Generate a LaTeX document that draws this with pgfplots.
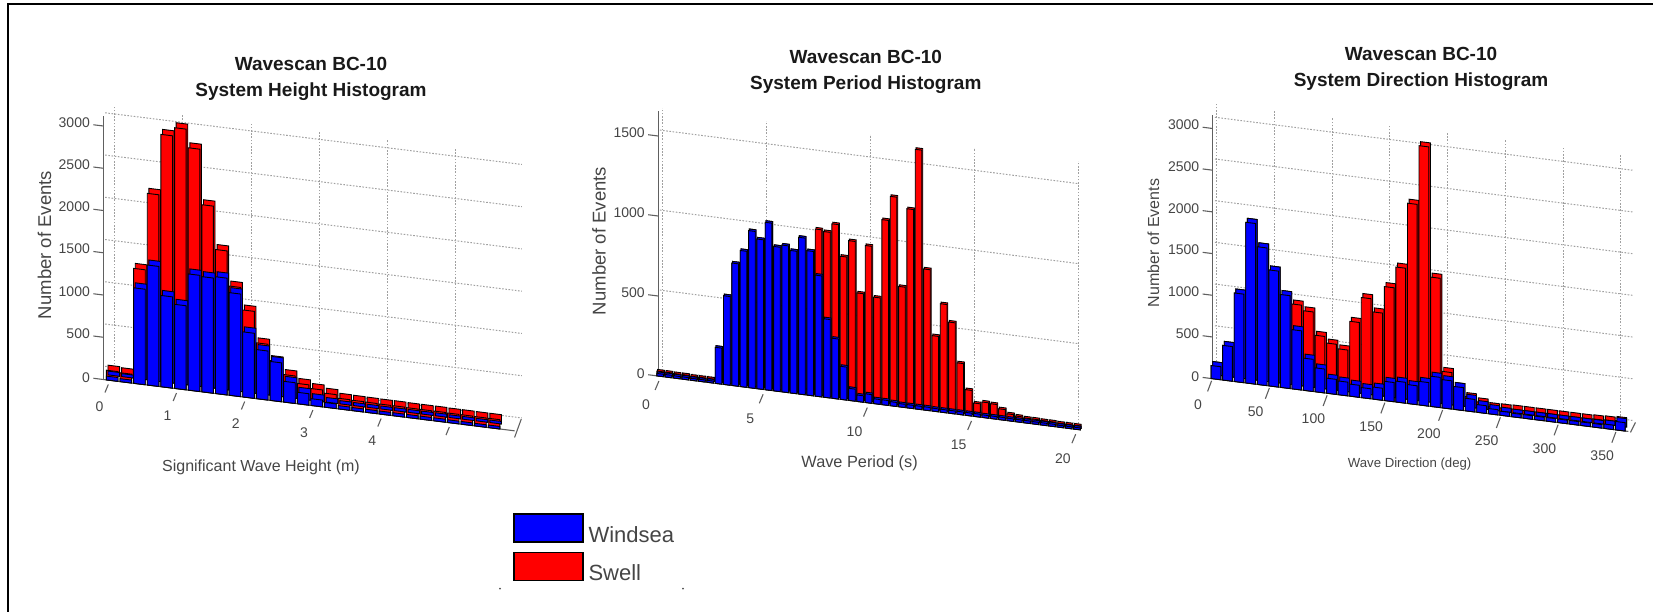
\documentclass[border=0pt]{standalone}
\usepackage{fontspec}
\setmainfont{Liberation Sans}
\usepackage{pgfplots}
\usepackage{pgfplotstable}
\pgfplotsset{compat=1.18}
\definecolor{axgray}{HTML}{606060}
\definecolor{txtgray}{HTML}{454545}
\definecolor{gridg}{HTML}{A0A0A0}
\pgfplotstableread{
x red blue
0.1 115 45
0.3 105 35
0.5 1360 1130
0.7 2268 1420
0.9 2986 1080
1.1 3085 995
1.3 2868 1375
1.5 2214 1363
1.7 1704 1382
1.9 1292 1214
2.1 1029 770
2.3 660 580
2.5 470 460
2.7 325 245
2.9 240 135
3.1 200 80
3.3 165 55
3.5 125 38
3.7 122 36
3.9 120 36
4.1 118 35
4.3 118 35
4.5 115 35
4.7 115 35
4.9 115 35
5.1 112 32
5.3 112 32
5.5 110 30
5.7 110 30
}\tableH
\pgfplotstableread{
x red blue
0.2 30 15
0.6 30 15
1.0 28 14
1.4 28 14
1.8 25 12
2.2 25 12
2.6 25 12
3.0 225 225
3.4 554 554
3.8 765 765
4.2 850 850
4.6 981 981
5.0 935 935
5.4 1046 1046
5.8 902 902
6.2 917 917
6.6 890 890
7.0 979 979
7.4 902 902
7.8 1044 756
8.2 1035 490
8.6 1090 375
9.0 894 206
9.4 998 75
9.8 678 40
10.2 981 54
10.6 665 30
11.0 1156 30
11.4 1308 25
11.8 752 20
12.2 1244 20
12.6 1622 20
13.0 881 20
13.4 471 18
13.8 677 18
14.2 569 18
14.6 321 18
15.0 160 18
15.4 83 18
15.8 96 16
16.2 92 16
16.6 67 16
17.0 42 15
17.4 35 15
17.8 30 15
18.2 30 14
18.6 28 14
19.0 28 14
19.4 25 12
19.8 25 12
20.2 25 12
}\tableP
\pgfplotstableread{
x red blue
5 156 156
15 415 415
25 1061 1061
35 1926 1926
45 1650 1650
55 1390 1390
65 1113 1113
75 1017 709
85 953 385
95 677 286
105 601 180
115 549 164
125 897 144
135 1200 120
145 1045 144
155 1366 230
165 1618 250
175 2401 226
185 3108 282
195 1550 362
205 437 338
215 274 274
225 170 150
235 125 92
245 85 62
255 88 48
265 92 42
275 92 42
285 92 42
295 92 42
305 92 42
315 92 42
325 92 42
335 97 42
345 102 52
355 112 100
}\tableD
\pgfplotsset{
 wall/.style={anchor=origin, clip=false, xmin=0, ymin=0,
   axis line style={draw=none}, xticklabels={}, yticklabels={},
   major tick length=0pt, tick style={draw=none},
   grid=major, grid style={draw=gridg, line width=1pt, dash pattern=on 1.6pt off 1.6pt}},
 panel/.style={anchor=origin, clip=false, xmin=0, ymin=0, axis lines*=left,
   axis line style={draw=axgray, line width=1.1pt},
   xtick style={draw=none}, major tick length=10pt, tick align=outside,
   ytick style={draw=axgray, line width=1.1pt},
   tick label style={text=txtgray, font=\fontsize{14}{15}\selectfont, /pgf/number format/assume math mode=true, /pgf/number format/1000 sep={}},
   scaled y ticks=false, scaled x ticks=false},
}
% table, half width, bar shift, cap x shift, cap y shift
\newcommand\drawbars[5]{%
 \pgfplotstablegetrowsof{#1}%
 \pgfmathtruncatemacro\lastrow{\pgfplotsretval-1}%
 \pgfplotsforeachungrouped \i in {0,...,\lastrow}{%
  \pgfplotstablegetelem{\i}{x}\of{#1}\let\vx\pgfplotsretval
  \pgfplotstablegetelem{\i}{red}\of{#1}\let\vr\pgfplotsretval
  \pgfplotstablegetelem{\i}{blue}\of{#1}\let\vb\pgfplotsretval
  \pgfmathsetmacro\xa{\vx+(#3)-(#2)}%
  \pgfmathsetmacro\xb{\vx+(#3)+(#2)}%
  \edef\tmp{\noexpand\addplot[draw=black, line width=0.9pt, fill=red, xshift=#4, yshift=#5] coordinates {(\xa,0)(\xb,0)(\xb,\vr)(\xa,\vr)} -- cycle;
   \noexpand\addplot[draw=black, line width=0.9pt, fill=red] coordinates {(\xa,0)(\xb,0)(\xb,\vr)(\xa,\vr)} -- cycle;
   \noexpand\addplot[draw=black, line width=0.9pt, fill=blue, xshift=#4, yshift=#5] coordinates {(\xa,0)(\xb,0)(\xb,\vb)(\xa,\vb)} -- cycle;
   \noexpand\addplot[draw=black, line width=0.9pt, fill=blue] coordinates {(\xa,0)(\xb,0)(\xb,\vb)(\xa,\vb)} -- cycle;}%
  \tmp
 }%
}
\begin{document}
\begin{tikzpicture}[x=1pt,y=1pt]
\path[use as bounding box] (0,0) rectangle (1653,611);
\draw[black, line width=1.3pt] (8,-2) -- (8,607) -- (1660,607);
% ---------- Panel 1
\begin{axis}[wall, at={(114.7pt,243.5pt)}, x={(68.2pt,-8.45pt)}, y={(0pt,0.0845pt)},
  xmin=-0.14, xmax=5.97, ymax=3090, xtick={0,1,2,3,4,5}, ytick={0,500,1000,1500,2000,2500,3000}]
 \addplot[draw=none] coordinates {(0,0)};
\end{axis}
\begin{axis}[panel, at={(103.3pt,231.5pt)}, x={(68.2pt,-8.51pt)}, y={(0pt,0.0845pt)},
  xmax=6.03, ymax=3118, xtick={0,1,2,3,4}, ytick={0,500,1000,1500,2000,2500,3000},
  xticklabel style={anchor=center, xshift=-3.9pt, yshift=-17.5pt}]
 \drawbars{\tableH}{0.085}{0.03}{1.6pt}{5pt}
 \pgfplotsinvokeforeach{0,1,2,3,4,5}{\draw[axgray,line width=1.1pt] (axis cs:#1,0) ++(5pt,-5pt) -- ++(-3.3pt,-8pt);}
 \draw[axgray,line width=1.1pt] (axis cs:6.03,0) ++(6.7pt,11.7pt) -- ++(-6.7pt,-18.4pt);
\end{axis}
% ---------- Panel 2
\begin{axis}[wall, at={(662.3pt,240.6pt)}, x={(20.8pt,-2.66pt)}, y={(0pt,0.16pt)},
  xmin=-0.116, xmax=20, ymax=1640, xtick={0,5,10,15,20}, ytick={0,500,1000,1500}]
 \addplot[draw=none] coordinates {(0,0)};
\end{axis}
\begin{axis}[panel, at={(658.1pt,235pt)}, x={(20.84pt,-2.66pt)}, y={(0pt,0.16pt)},
  xmax=20.1, ymax=1656, xtick={0,5,10,15,20}, ytick={0,500,1000,1500},
  xticklabel style={anchor=center, xshift=-12pt, yshift=-19pt}]
 \drawbars{\tableP}{0.16}{-0.1}{0.8pt}{1.6pt}
 \pgfplotsinvokeforeach{0,5,10,15,20}{\draw[axgray,line width=1.1pt] (axis cs:#1,0) ++(0.8pt,-5pt) -- ++(-3.8pt,-9pt);}
\end{axis}
% ---------- Panel 3
\begin{axis}[wall, at={(1216.7pt,243.3pt)}, x={(1.155pt,-0.1465pt)}, y={(0pt,0.0834pt)},
  xmin=-1.5, xmax=360.8, ymax=3170, xtick={0,50,...,350}, ytick={0,500,1000,1500,2000,2500,3000}]
 \addplot[draw=none] coordinates {(0,0)};
\end{axis}
\begin{axis}[panel, at={(1212.6pt,232.3pt)}, x={(1.155pt,-0.1465pt)}, y={(0pt,0.0834pt)},
  xmax=360, ymax=3167, xtick={0,50,...,350}, ytick={0,500,1000,1500,2000,2500,3000},
  xticklabel style={anchor=center, xshift=-14.7pt, yshift=-15.7pt}]
 \drawbars{\tableD}{4.2}{-2.09}{1.6pt}{4pt}
 \pgfplotsinvokeforeach{0,50,100,150,200,250,300,350}{\draw[axgray,line width=1.1pt] (axis cs:#1,0) ++(-1pt,-2pt) -- ++(-4pt,-10.7pt);}
 \draw[axgray,line width=1.1pt] (axis cs:360,0) ++(7pt,9pt) -- ++(-5pt,-10pt);
\end{axis}
% ---------- Legend
\begin{axis}[at={(0pt,0pt)}, anchor=south west, width=10pt, height=10pt, scale only axis, hide axis,
  xmin=0,xmax=1,ymin=0,ymax=1,
  legend style={at={(513pt,98pt)}, anchor=north west, draw=none, fill=none, inner sep=0pt,
     font=\fontsize{22}{23}\selectfont, text=txtgray, row sep=6pt, /tikz/every even column/.append style={column sep=2pt}},
  legend cell align=left,
  legend image code/.code={\draw[#1, draw=black, line width=1.3pt] (0pt,-7pt) rectangle (69pt,21pt);}]
 \addplot[fill=blue, draw=black] coordinates {(0,0)};
 \addlegendentry{\hspace{3pt}Windsea}
 \addplot[fill=red, draw=black] coordinates {(0,0)};
 \addlegendentry{\hspace{3pt}Swell}
\end{axis}
\fill[black!70] (500,22.3) circle (1pt) (683,22.3) circle (1pt);
% ---------- Titles and labels
\begin{scope}[every node/.style={align=center, font=\fontsize{19}{26}\selectfont\bfseries, text=black!90}]
\node at (311,532.5) {Wavescan BC-10\\System Height Histogram};
\node at (865.8,539) {Wavescan BC-10\\System Period Histogram};
\node at (1421,542) {Wavescan BC-10\\System Direction Histogram};
\end{scope}
\node[rotate=90,text=txtgray,font=\fontsize{18.5}{20}\selectfont] at (44.4,366) {Number of Events};
\node[rotate=90,text=txtgray,font=\fontsize{18.5}{20}\selectfont] at (599,370) {Number of Events};
\node[rotate=90,text=txtgray,font=\fontsize{16}{18}\selectfont] at (1153.4,368) {Number of Events};
\node[text=txtgray,font=\fontsize{16}{18}\selectfont] at (261,144) {Significant Wave Height (m)};
\node[text=txtgray,font=\fontsize{16.3}{18}\selectfont] at (859.6,148) {Wave Period (s)};
\node[text=txtgray,font=\fontsize{13.2}{16}\selectfont] at (1409.6,147) {Wave Direction (deg)};
\end{tikzpicture}
\end{document}
